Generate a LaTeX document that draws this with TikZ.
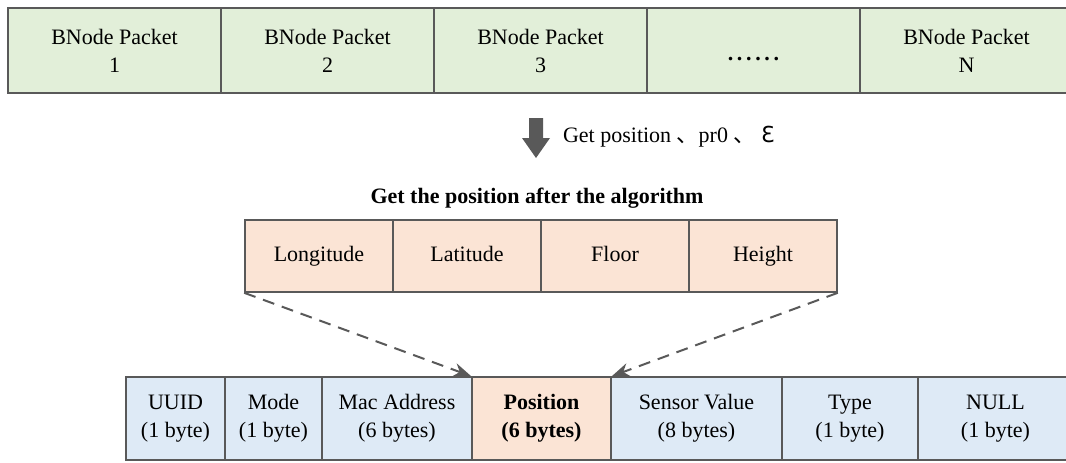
\documentclass[tikz,border=0pt]{standalone}
\usepackage{fontspec}
\setmainfont{Liberation Serif}
\newfontfamily\cjkfont{Noto Sans CJK SC}
\newfontfamily\symbfont{DejaVu Sans}
\usetikzlibrary{arrows.meta}
\definecolor{pktgreen}{RGB}{226,239,217}
\definecolor{geoorange}{RGB}{251,228,213}
\definecolor{fldblue}{RGB}{222,234,246}
\definecolor{edgegray}{RGB}{89,89,89}
\tikzset{
  cell/.style={rectangle, draw=edgegray, line width=0.8pt, inner sep=0pt, align=center,
    font=\fontsize{11}{14}\selectfont},
  maplink/.style={dashed, dash pattern=on 6pt off 4pt, edgegray, line width=1pt,
    -{Stealth[length=9pt,width=7pt]}}
}

\begin{document}
\begin{tikzpicture}[x=0.5pt,y=-0.5pt]
    \useasboundingbox (0,0) rectangle (1066,462);

    % BNode packets
    \foreach \n/\l/\r/\txt in {1/8/221/{BNode Packet\\1}, 2/221/434/{BNode Packet\\2},
        3/434/647/{BNode Packet\\3}, 4/647/860/{\smash{\raisebox{-5pt}{\textbf{.\,.\,.\,.\,.\,.}}}},
        5/860/1073/{BNode Packet\\N}}
      \node[cell, fill=pktgreen, minimum width={(\r-\l)*0.5pt}, minimum height=42.5pt]
        (pkt\n) at ({(\l+\r)/2},50.5) {\txt};

    % Arrow and parameters
    \fill[edgegray] (529,118) -- (543,118) -- (543,138) -- (550,138) -- (536,158)
      -- (522,138) -- (529,138) -- cycle;
    \node[anchor=west, font=\fontsize{11}{14}\selectfont] (gettxt) at (556,137)
      {Get position {\cjkfont 、}pr0 {\cjkfont 、} {\symbfont ℇ}};

    % Position after the algorithm
    \node[font=\fontsize{11}{14}\selectfont\bfseries] (title) at (537,198)
      {Get the position after the algorithm};
    \foreach \n/\l/\r/\txt in {1/245/393/Longitude, 2/393/541/Latitude,
        3/541/689/Floor, 4/689/837/Height}
      \node[cell, fill=geoorange, minimum width={(\r-\l)*0.5pt}, minimum height=36pt,
        text height=8pt, text depth=2.5pt] (geo\n) at ({(\l+\r)/2},256) {\txt};

    % Packet fields
    \foreach \n/\l/\r/\col/\txt in {1/126/225/fldblue/{UUID\\(1 byte)}, 2/225/322/fldblue/{Mode\\(1 byte)},
        3/322/472/fldblue/{Mac Address\\(6 bytes)}, 4/472/611/geoorange/{\textbf{Position}\\\textbf{(6 bytes)}},
        5/611/782/fldblue/{Sensor Value\\(8 bytes)}, 6/782/918/fldblue/{Type\\(1 byte)},
        7/918/1073/fldblue/{NULL\\(1 byte)}}
      \node[cell, fill=\col, minimum width={(\r-\l)*0.5pt}, minimum height=41.5pt]
        (fld\n) at ({(\l+\r)/2},418.5) {\txt};

    % Mapping
    \draw[maplink] (geo1.south west) -- (fld4.north west);
    \draw[maplink] (geo4.south east) -- (fld4.north east);
\end{tikzpicture}
\end{document}
